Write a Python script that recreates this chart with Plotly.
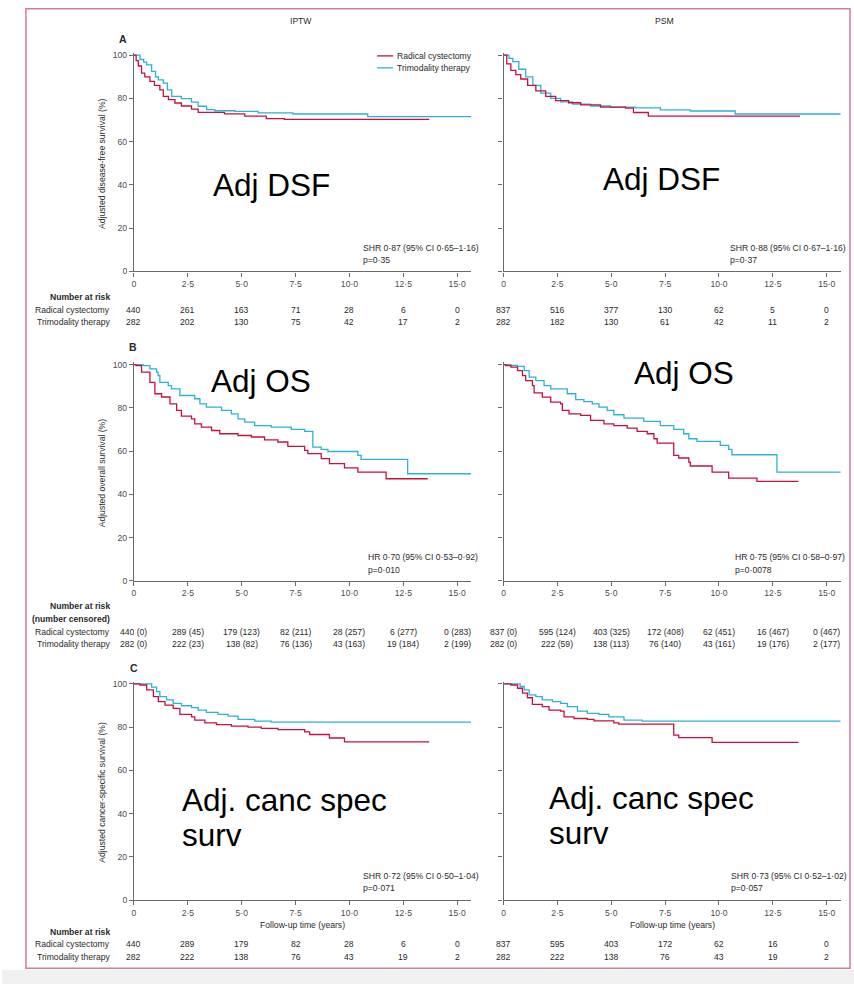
import plotly.graph_objects as go

W = 854
H = 990          # the capture is ~990 px tall and squeezed into 984, so lay out in 984-px terms
REF_H = 984
def px(x): return x / W
def py(y): return 1 - y / REF_H

# ---------------- data ----------------
x_ticks = [0, 2.5, 5, 7.5, 10, 12.5, 15]
x_ticktext = ["0", "2·5", "5·0", "7·5", "10·0", "12·5", "15·0"]
y_ticks = [0, 20, 40, 60, 80, 100]
y_ticktext = ["0", "20", "40", "60", "80", "100"]

# A: disease-free survival
dfs_iptw_rc_t = [0, 0.1, 0.2, 0.35, 0.5, 0.74, 0.95, 1.2, 1.36, 1.6, 1.9, 2.2, 2.67, 2.98, 4.2, 5.14, 6.14, 6.98, 13.7]
dfs_iptw_rc_s = [100, 97.5, 95, 91.7, 90, 87.9, 86, 84, 81, 79.5, 77.9, 76.5, 75.1, 73.6, 72.9, 71.8, 70.7, 70.3, 70.3]
dfs_iptw_tmt_t = [0, 0.28, 0.45, 0.59, 0.82, 1.0, 1.13, 1.36, 1.55, 1.75, 2.2, 2.67, 2.98, 3.37, 3.75, 4.68, 5.76, 7.38, 10.85, 15.65]
dfs_iptw_tmt_s = [100, 98, 96.8, 95.5, 92.5, 90, 88.6, 87.1, 84, 81, 79.9, 78.3, 76.4, 74.8, 74.3, 74, 73.3, 72.8, 71.6, 71.6]
dfs_psm_rc_t = [0, 0.15, 0.34, 0.57, 0.8, 1.12, 1.5, 1.96, 2.42, 3.02, 3.58, 4.5, 5.66, 6.03, 6.72, 13.76]
dfs_psm_rc_s = [100, 96, 93, 91, 89, 86, 83.5, 81, 79, 78, 77, 76, 75.5, 73.5, 71.8, 71.8]
dfs_psm_tmt_t = [0, 0.25, 0.43, 0.71, 1.03, 1.36, 1.73, 2.19, 2.65, 3.21, 4.04, 4.97, 6.13, 7.28, 8.67, 10.75, 15.65]
dfs_psm_tmt_s = [100, 98.5, 97, 93.5, 90, 86, 82.5, 80, 78.4, 77.4, 76.5, 76, 75.6, 74.7, 74.2, 72.8, 72.8]

# B: overall survival
os_iptw_rc_t = [0, 0.1, 0.35, 0.74, 0.97, 1.28, 1.67, 1.98, 2.2, 2.67, 2.82, 3.13, 3.6, 3.98, 4.83, 5.45, 6.06, 6.68, 7.14, 7.92, 8.07, 8.69, 9.07, 9.77, 10.39, 11.7, 13.63]
os_iptw_rc_s = [100, 99.5, 96.5, 91.8, 86.5, 85, 81.8, 78.8, 76.2, 74.9, 72.6, 71.1, 69.5, 68, 67.2, 66.5, 65.2, 64.2, 62.2, 60.3, 58.8, 56.5, 54.2, 52.2, 50.3, 47.2, 47.2]
os_iptw_tmt_t = [0, 0.43, 0.74, 1.05, 1.12, 1.2, 1.59, 1.74, 2.13, 2.82, 3.06, 3.36, 4.06, 4.52, 4.83, 5.14, 5.6, 6.37, 7.3, 7.92, 8.3, 8.69, 9.0, 10.39, 10.54, 12.7, 15.65]
os_iptw_tmt_s = [100, 99.5, 98, 96.5, 94.9, 91.8, 90.3, 88.8, 85.7, 84.2, 81.8, 80.3, 78.8, 77.2, 74.9, 73.4, 71.8, 71.1, 70, 69.1, 61.8, 60.8, 59.8, 58, 56.2, 49.5, 49.5]
os_psm_rc_t = [0, 0.1, 0.34, 0.65, 0.88, 1.03, 1.34, 1.42, 1.8, 2.19, 2.65, 2.73, 3.04, 3.58, 4.04, 4.66, 5.12, 5.74, 6.2, 6.67, 6.98, 7.13, 7.9, 8.13, 8.6, 8.67, 9.68, 10.45, 11.76, 13.69]
os_psm_rc_s = [100, 99.5, 98.8, 97.2, 94.9, 92.6, 90.3, 86.9, 84.9, 82.6, 81.8, 78.8, 77.2, 76.5, 74.2, 72.6, 71.8, 70.6, 69.1, 68, 65.7, 63.7, 58, 56.8, 54.9, 53.1, 50.3, 47.5, 46, 46]
os_psm_tmt_t = [0, 0.34, 0.65, 0.96, 1.19, 1.5, 1.88, 2.19, 2.96, 3.35, 3.73, 4.12, 4.43, 4.81, 5.12, 5.59, 6.51, 7.28, 7.9, 8.36, 8.6, 8.98, 10.06, 10.45, 10.6, 12.69, 15.65]
os_psm_tmt_s = [100, 99.6, 99.2, 97.2, 94.2, 92.6, 90.3, 88.8, 86.5, 83.8, 82.9, 81.8, 80.3, 78.8, 76.8, 75.2, 73.7, 71.8, 70, 68, 65.7, 64.5, 62.6, 60.8, 58.3, 50.3, 50.3]

# C: cancer-specific survival
css_iptw_rc_t = [0, 0.28, 0.59, 0.9, 1.13, 1.44, 1.82, 2.13, 2.67, 2.82, 3.29, 3.83, 4.52, 5.29, 5.91, 6.68, 7.92, 8.15, 9.07, 9.77, 13.7]
css_iptw_rc_s = [100, 99.5, 97.2, 94.1, 91.8, 90.2, 88.7, 85.9, 84.8, 83.3, 82, 81.2, 80.5, 80, 79.4, 78.9, 77.8, 76.6, 75, 73.2, 73.2]
css_iptw_tmt_t = [0, 0.82, 1.05, 1.2, 1.51, 1.82, 2.2, 2.67, 2.98, 3.36, 3.9, 4.37, 4.83, 5.6, 6.37, 15.65]
css_iptw_tmt_s = [100, 98.5, 96.4, 94.1, 92.6, 91, 89.9, 89, 87.9, 86.8, 85.9, 85.1, 83.6, 82.8, 82.3, 82.3]
css_psm_rc_t = [0, 0.34, 0.65, 0.88, 1.11, 1.34, 1.8, 2.11, 2.65, 2.81, 3.27, 3.89, 4.2, 5.12, 5.35, 7.9, 8.13, 9.68, 13.69]
css_psm_rc_s = [100, 99.5, 98, 95.7, 93.6, 90.5, 89.5, 87.9, 87.4, 84.8, 84, 83.6, 82.9, 82, 81.4, 76.3, 75.2, 73, 73]
css_psm_tmt_t = [0, 0.77, 0.96, 1.19, 1.5, 1.8, 2.27, 2.65, 2.96, 3.43, 3.89, 4.43, 4.89, 5.59, 6.44, 15.65]
css_psm_tmt_s = [100, 98.8, 97.2, 94.9, 94.1, 92.6, 91.8, 91, 89.5, 87.4, 86.4, 85.9, 84.8, 83.3, 82.8, 82.8]

# numbers at risk
risk_dfs_iptw_rc = ["440", "261", "163", "71", "28", "6", "0"]
risk_dfs_iptw_tmt = ["282", "202", "130", "75", "42", "17", "2"]
risk_dfs_psm_rc = ["837", "516", "377", "130", "62", "5", "0"]
risk_dfs_psm_tmt = ["282", "182", "130", "61", "42", "11", "2"]
risk_os_iptw_rc = ["440 (0)", "289 (45)", "179 (123)", "82 (211)", "28 (257)", "6 (277)", "0 (283)"]
risk_os_iptw_tmt = ["282 (0)", "222 (23)", "138 (82)", "76 (136)", "43 (163)", "19 (184)", "2 (199)"]
risk_os_psm_rc = ["837 (0)", "595 (124)", "403 (325)", "172 (408)", "62 (451)", "16 (467)", "0 (467)"]
risk_os_psm_tmt = ["282 (0)", "222 (59)", "138 (113)", "76 (140)", "43 (161)", "19 (176)", "2 (177)"]
risk_css_iptw_rc = ["440", "289", "179", "82", "28", "6", "0"]
risk_css_iptw_tmt = ["282", "222", "138", "76", "43", "19", "2"]
risk_css_psm_rc = ["837", "595", "403", "172", "62", "16", "0"]
risk_css_psm_tmt = ["282", "222", "138", "76", "43", "19", "2"]

stats_text = {
    "A_l": ["SHR 0·87 (95% CI 0·65–1·16)", "p=0·35"],
    "A_r": ["SHR 0·88 (95% CI 0·67–1·16)", "p=0·37"],
    "B_l": ["HR 0·70 (95% CI 0·53–0·92)", "p=0·010"],
    "B_r": ["HR 0·75 (95% CI 0·58–0·97)", "p=0·0078"],
    "C_l": ["SHR 0·72 (95% CI 0·50–1·04)", "p=0·071"],
    "C_r": ["SHR 0·73 (95% CI 0·52–1·02)", "p=0·057"],
}

# ---------------- style ----------------
RC = "#c8103e"
TMT = "#2bb3d4"
AX = "#6a6a6a"
TXT = "#2a2a2a"
TICKC = "#4a4a55"
SMALL = "Liberation Sans, Arial, sans-serif"
BIG = "Liberation Sans, Arial, sans-serif"
FS = 8.6
XMAX = 15.65
YMAX = 101
PXU = 2.167  # px per survival unit

fig = go.Figure()

panels = [
    ("A_l", 1, True, 269, dfs_iptw_rc_t, dfs_iptw_rc_s, dfs_iptw_tmt_t, dfs_iptw_tmt_s, risk_dfs_iptw_rc, risk_dfs_iptw_tmt),
    ("A_r", 2, False, 269, dfs_psm_rc_t, dfs_psm_rc_s, dfs_psm_tmt_t, dfs_psm_tmt_s, risk_dfs_psm_rc, risk_dfs_psm_tmt),
    ("B_l", 3, True, 579, os_iptw_rc_t, os_iptw_rc_s, os_iptw_tmt_t, os_iptw_tmt_s, risk_os_iptw_rc, risk_os_iptw_tmt),
    ("B_r", 4, False, 579, os_psm_rc_t, os_psm_rc_s, os_psm_tmt_t, os_psm_tmt_s, risk_os_psm_rc, risk_os_psm_tmt),
    ("C_l", 5, True, 899, css_iptw_rc_t, css_iptw_rc_s, css_iptw_tmt_t, css_iptw_tmt_s, risk_css_iptw_rc, risk_css_iptw_tmt),
    ("C_r", 6, False, 899, css_psm_rc_t, css_psm_rc_s, css_psm_tmt_t, css_psm_tmt_s, risk_css_psm_rc, risk_css_psm_tmt),
]

risk_rows = {"A": (307.3, 319.3), "B": (630, 642.5), "C": (942.5, 955.5)}
stats_rows = {"A": (245.7, 257.7), "B": (555, 567.7), "C": (875, 886.7)}
stats_x = {True: {"A": 360, "B": 365, "C": 360}, False: {"A": 728, "B": 733, "C": 729}}

annotations = []
for key, idx, left, zero_y, rt, rs, tt, ts, rrc, rtmt in panels:
    xa = "x" if idx == 1 else f"x{idx}"
    ya = "y" if idx == 1 else f"y{idx}"
    fig.add_trace(go.Scatter(x=tt, y=ts, mode="lines", line=dict(color=TMT, width=1.3, shape="hv"),
                             name="Trimodality therapy", showlegend=False, xaxis=xa, yaxis=ya))
    fig.add_trace(go.Scatter(x=rt, y=rs, mode="lines", line=dict(color=RC, width=1.3, shape="hv"),
                             name="Radical cystectomy", showlegend=False, xaxis=xa, yaxis=ya))
    xdom = [132.3 / W, 470.3 / W] if left else [502.7 / W, 840.7 / W]
    top_y = zero_y - PXU * YMAX
    ydom = [py(zero_y), py(top_y)]
    axname_x = "xaxis" if idx == 1 else f"xaxis{idx}"
    axname_y = "yaxis" if idx == 1 else f"yaxis{idx}"
    fig.layout[axname_x] = dict(domain=xdom, range=[0, XMAX], anchor=ya, tickvals=x_ticks, ticktext=x_ticktext,
                                showline=True, linecolor=AX, linewidth=1.2, ticks="outside", ticklen=4,
                                tickcolor=AX, tickwidth=1, showgrid=False, zeroline=False,
                                tickfont=dict(family=SMALL, size=FS, color=TICKC))
    fig.layout[axname_y] = dict(domain=ydom, range=[0, YMAX], anchor=xa, tickvals=y_ticks, ticktext=y_ticktext,
                                showline=True, linecolor=AX, linewidth=1.2, ticks="outside", ticklen=4,
                                tickcolor=AX, tickwidth=1, showgrid=False, zeroline=False,
                                showticklabels=left,
                                tickfont=dict(family=SMALL, size=FS, color=TICKC))
    row = key[0]
    for vals, yrow in zip((rrc, rtmt), risk_rows[row]):
        for xv, t in zip(x_ticks, vals):
            annotations.append(dict(x=xv, y=py(yrow), xref=xa, yref="paper", text=t, showarrow=False,
                                    xanchor="center", yanchor="middle",
                                    font=dict(family=SMALL, size=FS, color=TXT)))
    for line, yrow in zip(stats_text[key], stats_rows[row]):
        annotations.append(dict(x=px(stats_x[left][row]), y=py(yrow), xref="paper", yref="paper", text=line,
                                showarrow=False, xanchor="left", yanchor="middle",
                                font=dict(family=SMALL, size=FS, color=TXT)))

def txt(x, y, s, size=FS, anchor="center", bold=False, family=SMALL, color=TXT, angle=0):
    if bold:
        s = f"<b>{s}</b>"
    annotations.append(dict(x=px(x), y=py(y), xref="paper", yref="paper", text=s, showarrow=False,
                            xanchor=anchor, yanchor="middle", textangle=angle,
                            font=dict(family=family, size=size, color=color)))

txt(300, 18, "IPTW")
txt(664, 18, "PSM")
txt(121.5, 36, "A", size=10.5, bold=True)
txt(131.5, 345, "B", size=10.5, bold=True)
txt(132, 666, "C", size=10.5, bold=True)
txt(100, 160.5, "Adjusted disease-free survival (%)", angle=-90)
txt(100, 470.5, "Adjusted overall survival (%)", angle=-90)
txt(100, 790.5, "Adjusted cancer-specific survival (%)", angle=-90)
txt(301, 924, "Follow-up time (years)")
txt(672, 924, "Follow-up time (years)")
txt(110, 295, "Number at risk", anchor="right", bold=True)
txt(110, 307.3, "Radical cystectomy", anchor="right")
txt(110, 319.3, "Trimodality therapy", anchor="right")
txt(110, 604.3, "Number at risk", anchor="right", bold=True)
txt(110, 617, "(number censored)", anchor="right", bold=True)
txt(110, 630, "Radical cystectomy", anchor="right")
txt(110, 642.5, "Trimodality therapy", anchor="right")
txt(110, 930.7, "Number at risk", anchor="right", bold=True)
txt(110, 942.5, "Radical cystectomy", anchor="right")
txt(110, 955.5, "Trimodality therapy", anchor="right")
txt(394, 53, "Radical cystectomy", anchor="left")
txt(394, 65, "Trimodality therapy", anchor="left")
txt(270, 182, "Adj DSF", size=31.5, family=BIG, color="#000000")
txt(661, 176, "Adj DSF", size=31.5, family=BIG, color="#000000")
txt(260, 379, "Adj OS", size=31.5, family=BIG, color="#000000")
txt(684, 371, "Adj OS", size=31.5, family=BIG, color="#000000")
txt(178, 799, "Adj. canc spec", size=31.5, family=BIG, color="#000000", anchor="left")
txt(178, 834, "surv", size=31.5, family=BIG, color="#000000", anchor="left")
txt(546, 797, "Adj. canc spec", size=31.5, family=BIG, color="#000000", anchor="left")
txt(546, 832, "surv", size=31.5, family=BIG, color="#000000", anchor="left")

shapes = [
    dict(type="line", xref="paper", yref="paper", x0=px(376), x1=px(392), y0=py(53), y1=py(53),
         line=dict(color=RC, width=1.3)),
    dict(type="line", xref="paper", yref="paper", x0=px(376), x1=px(392), y0=py(65), y1=py(65),
         line=dict(color=TMT, width=1.3)),
    dict(type="rect", xref="paper", yref="paper", x0=0, x1=1, y0=0, y1=py(969),
         fillcolor="#f0f0f0", line=dict(width=0), layer="below"),
    dict(type="rect", xref="paper", yref="paper", x0=px(24), x1=px(850), y0=py(967.3), y1=py(5.7),
         line=dict(color="#d97a96", width=1.5), fillcolor="rgba(0,0,0,0)"),
]

fig.update_layout(width=W, height=H, margin=dict(l=0, r=0, t=0, b=0),
                  paper_bgcolor="white", plot_bgcolor="white", showlegend=False,
                  annotations=annotations, shapes=shapes,
                  font=dict(family=SMALL, size=FS, color=TXT))

fig.write_html("out.html")
